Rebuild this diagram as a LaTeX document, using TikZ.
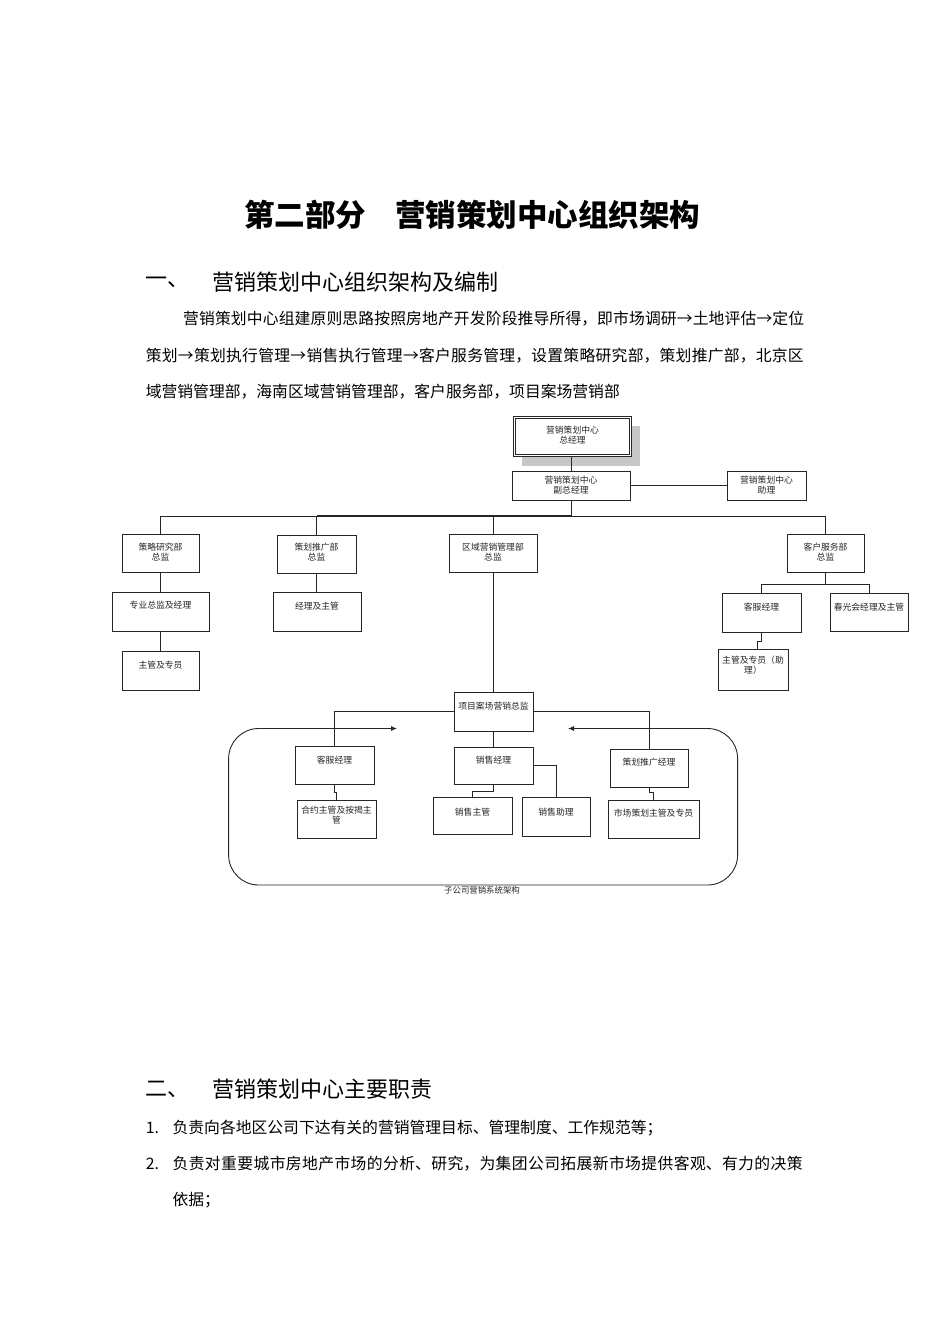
\documentclass[tikz,border=0pt]{standalone}
\usepackage{fontspec}
\setmainfont{Noto Sans CJK SC}
\usetikzlibrary{arrows.meta}
\XeTeXlinebreaklocale "zh"
\XeTeXlinebreakskip=0pt plus 3pt
\tikzset{
  cbx/.style={draw=black!85, line width=0.9pt, fill=white, inner sep=0pt, rectangle},
  ctext/.style={inner sep=0pt, align=center, text=black!85, font=\fontsize{8.8}{10.5}\selectfont},
  conn/.style={draw=black!85, line width=0.9pt},
  body/.style={inner sep=0pt, anchor=west, font=\fontsize{15.8}{18}\selectfont},
  head/.style={inner sep=0pt, anchor=west, font=\fontsize{22}{24}\selectfont},
}
\newcommand\justline[2]{\parbox{#1}{\parindent=0pt\parfillskip=0pt #2\par}}
\newcommand\cbox[7]{%
  \node[cbx, minimum width={(#4-#2)*1pt}, minimum height={(#5-#3)*1pt}] (#1) at ({(#2+#4)/2},{(#3+#5)/2}) {};
  \node[ctext, anchor=north] (#1-t) at ({(#2+#4)/2},{#6-4.4}) {#7};
}
\begin{document}
\begin{tikzpicture}[x=1pt,y=-1pt]
\useasboundingbox[fill=white] (0,0) rectangle (950,1344);

% ---- text ----
\node[inner sep=0pt, anchor=west, font=\fontsize{30.5}{32}\selectfont\bfseries] (title) at (244,215) {第二部分\hspace{29pt}营销策划中心组织架构};
\node[head] (h1n) at (145.6,282) {一、};
\node[head] (h1) at (212.6,282) {营销策划中心组织架构及编制};
\node[body] (p1) at (183,319) {\justline{621pt}{营销策划中心组建原则思路按照房地产开发阶段推导所得，即市场调研→土地评估→定位}};
\node[body] (p2) at (145.6,356) {\justline{658pt}{策划→策划执行管理→销售执行管理→客户服务管理，设置策略研究部，策划推广部，北京区}};
\node[body] (p3) at (145.6,392) {域营销管理部，海南区域营销管理部，客户服务部，项目案场营销部};

\node[head] (h2n) at (145.6,1089) {二、};
\node[head] (h2) at (212.6,1089) {营销策划中心主要职责};
\node[body] (n1) at (145.6,1128) {1.};
\node[body] (i1) at (172.4,1128) {负责向各地区公司下达有关的营销管理目标、管理制度、工作规范等；};
\node[body] (n2) at (145.6,1164) {2.};
\node[body] (i2) at (172.4,1164) {\justline{630pt}{负责对重要城市房地产市场的分析、研究，为集团公司拓展新市场提供客观、有力的决策}};
\node[body] (i2b) at (172.4,1200) {依据；};

% ---- chart ----
\fill[black!22] (522,426) rectangle (640,466);
\node[cbx, double=white, double distance=1.4pt, line width=0.8pt, minimum width=116pt, minimum height=38pt] (top) at (572.5,436.5) {};
\node[ctext, anchor=north] (top-t) at (572.5,430-4.4) {营销策划中心\\总经理};

\cbox{vp}{512}{471}{630}{500}{480}{营销策划中心\\副总经理}
\cbox{asst}{727}{471}{806}{500}{480}{营销策划中心\\助理}

\cbox{cl}{122}{534}{199}{572}{547}{策略研究部\\总监}
\cbox{ch}{277}{535}{356}{573}{547}{策划推广部\\总监}
\cbox{qy}{449}{534}{537}{572}{547}{区域营销管理部\\总监}
\cbox{kf}{787}{534}{864}{572}{547}{客户服务部\\总监}

\cbox{zy}{112}{592}{209}{631}{605}{专业总监及经理}
\cbox{zg}{122}{651}{199}{690}{665}{主管及专员}
\cbox{jl}{273}{592}{361}{631}{606}{经理及主管}
\cbox{kfjl}{722}{593}{801}{632}{607}{客服经理}
\cbox{cg}{830}{593}{908}{631}{607}{春光会经理及主管}
\cbox{zgzy}{718}{649}{788}{690}{660}{主管及专员（助\\理）}

\cbox{xm}{454}{692}{533}{731}{706}{项目案场营销总监}
\cbox{skf}{295}{746}{374}{784}{760}{客服经理}
\cbox{xsjl}{454}{747}{533}{784}{760}{销售经理}
\cbox{chjl}{610}{749}{688}{787}{762}{策划推广经理}
\cbox{hy}{297}{800}{376}{838}{810}{合约主管及按揭主\\管}
\cbox{xszg}{433}{797}{512}{834}{812}{销售主管}
\cbox{xszl}{522}{797}{590}{836}{812}{销售助理}
\cbox{sc}{608}{800}{699}{838}{813}{市场策划主管及专员}

% connectors
\coordinate (bus) at (571,516);
\coordinate (kbus) at (825.5,584);
\draw[conn] (top.south -| vp.north) -- (vp.north);
\draw[conn] (vp.east) -- (asst.west);
\draw[conn] (vp.south) -- (bus);
\draw[conn] (cl.north) -- (cl.north |- bus) -- (ch.north |- bus);
\draw[conn, line width=1.6pt] (ch.north |- bus) -- (bus);
\draw[conn] (bus) -- (kf.north |- bus) -- (kf.north);
\draw[conn] (ch.north) -- (ch.north |- bus);
\draw[conn] (qy.north) -- (qy.north |- bus);
\draw[conn] (cl.south) -- (zy.north);
\draw[conn] (zy.south) -- (zg.north);
\draw[conn] (ch.south) -- (ch.south |- jl.north);
\draw[conn] (kf.south) -- (kbus);
\draw[conn] (kfjl.north) -- (kfjl.north |- kbus) -- (cg.north |- kbus) -- (cg.north);
\draw[conn] (kfjl.south) -- ++(0,9) -| ([xshift=4pt]zgzy.north);
\draw[conn] (qy.south) -- (qy.south |- xm.north);
\draw[conn] (xm.west) -| (skf.north);
\draw[conn] (xm.east) -| (chjl.north);
\draw[conn] (xm.south) -- (xsjl.north);
\draw[conn] (skf.south) -- ++(0,7.7) -| (hy.north);
\draw[conn] (xsjl.south) -- ++(0,7) -| (xszg.north);
\draw[conn] (xsjl.east) -| (xszl.north);
\draw[conn] (chjl.south) -- ++(0,4.7) -| (sc.north);

% group outline with arrows
\coordinate (gl) at (397,728.5);
\coordinate (gr) at (568,728.5);
\draw[conn, rounded corners=30pt, {Latex[length=6pt,width=5pt]}-{Latex[length=6pt,width=5pt]}]
  (gl) -- (228.6,728.5) -- (228.6,885) -- (737.6,885) -- (737.6,728.5) -- (gr);
\node[ctext, font=\fontsize{8.4}{10}\selectfont, anchor=center] (cap) at (482,890.5) {子公司营销系统架构};
\end{tikzpicture}
\end{document}
